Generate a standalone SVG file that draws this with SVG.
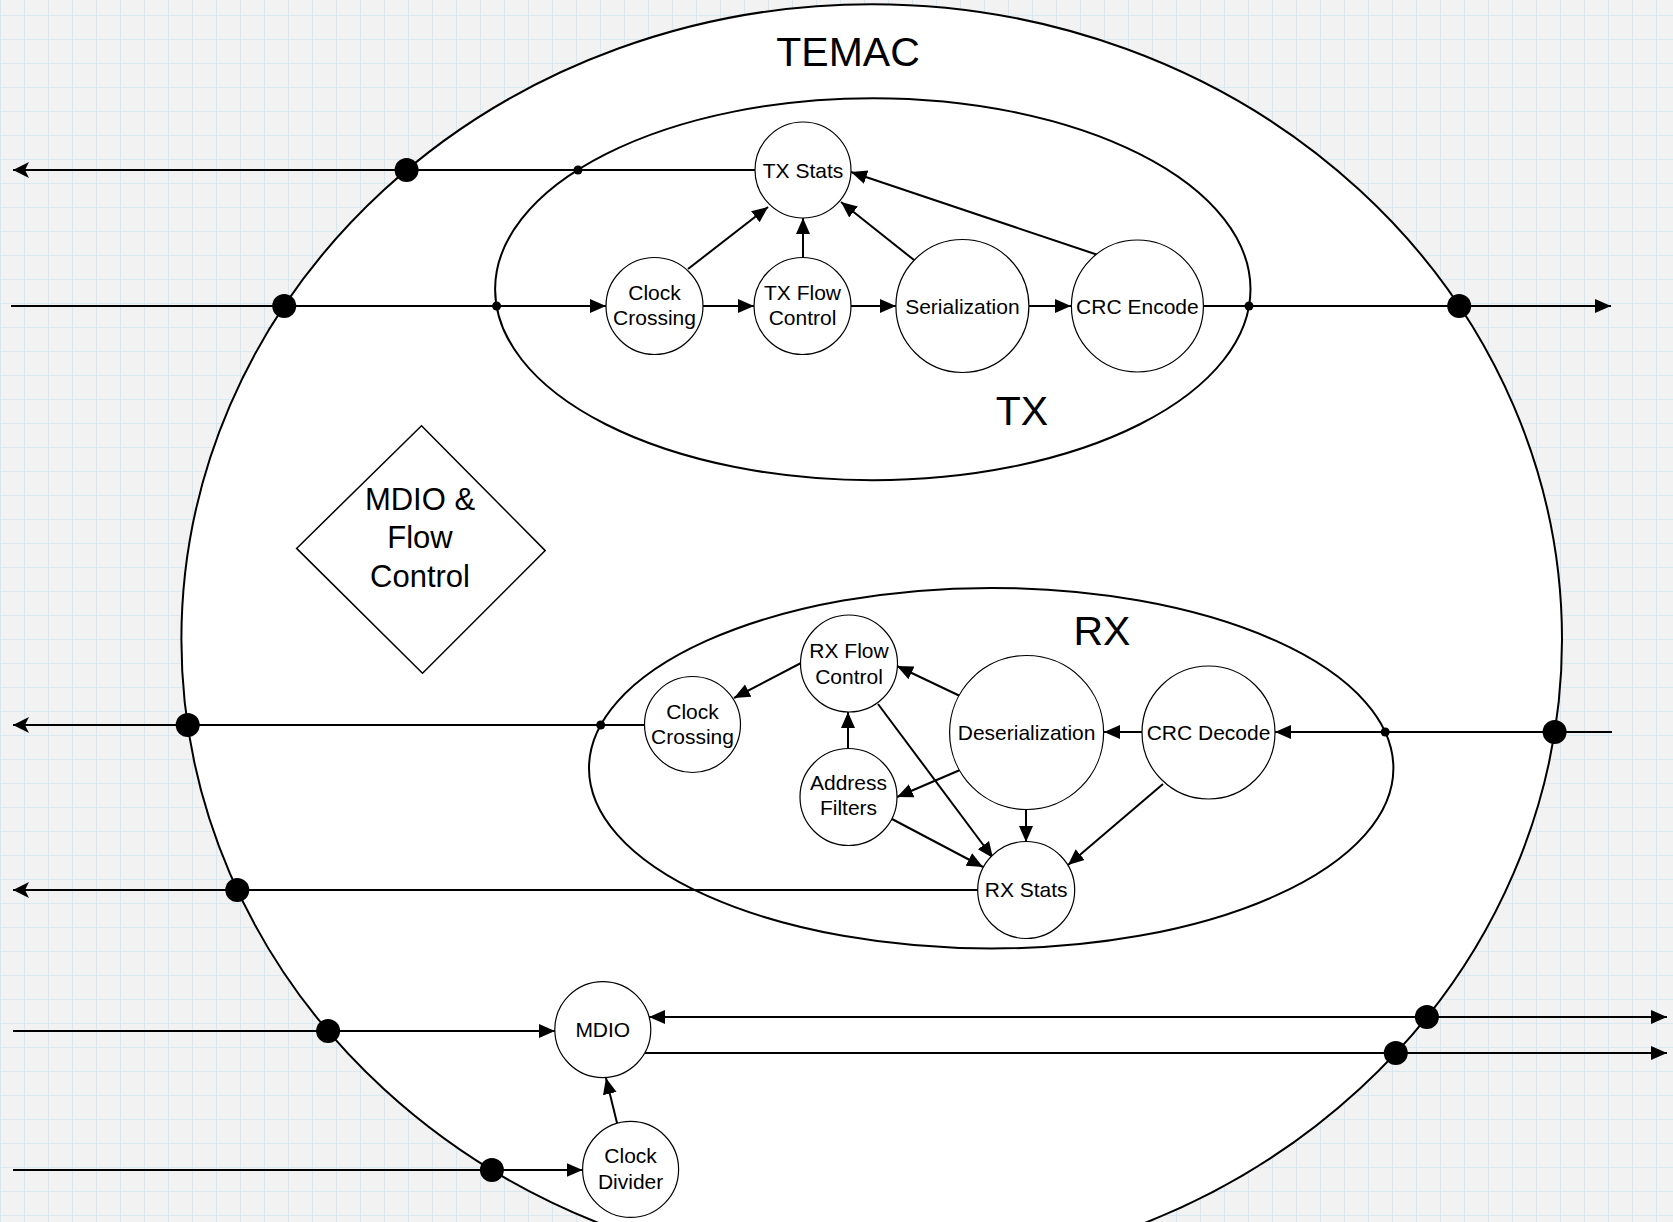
<svg xmlns="http://www.w3.org/2000/svg" width="1673" height="1222" viewBox="0 0 1673 1222">
  <defs>
    <pattern id="grid" x="0" y="15" width="24" height="24" patternUnits="userSpaceOnUse">
      <rect width="24" height="24" fill="#f2f2f2"/>
      <path d="M0,0 H24 M0,0 V24" stroke="#d2e5ee" stroke-width="1.6" fill="none"/>
    </pattern>
    <marker id="arrow" viewBox="0 0 16 16" refX="16" refY="8" markerWidth="16" markerHeight="16" markerUnits="userSpaceOnUse" orient="auto-start-reverse">
      <path d="M0,1 L16,8 L0,15 z" fill="#000"/>
    </marker>
    <marker id="arrowOut" viewBox="0 0 16 16" refX="16" refY="8" markerWidth="16" markerHeight="16" markerUnits="userSpaceOnUse" orient="auto">
      <path d="M0,0 L16,8 L0,16 L4,8 z" fill="#000"/>
    </marker>
    <style>
      .region { fill: #fff; stroke: #000; stroke-width: 2; }
      .node { fill: #fff; stroke: #000; stroke-width: 1.2; }
      .wire { fill: none; stroke: #000; stroke-width: 2; }
      .wire.a { marker-end: url(#arrow); }
      .wire.out { marker-end: url(#arrowOut); }
      .port { fill: #000; }
      .lbl { font-family: "Liberation Sans", Arial, sans-serif; font-size: 21px; text-anchor: middle; fill: #000; }
      .big { font-family: "Liberation Sans", Arial, sans-serif; font-size: 41px; text-anchor: middle; fill: #000; }
      .mid { font-family: "Liberation Sans", Arial, sans-serif; font-size: 31px; text-anchor: middle; fill: #000; }
    </style>
  </defs>

  <!-- graph paper backdrop -->
  <rect width="1673" height="1222" fill="url(#grid)"/>

  <!-- MAC boundary and sub-blocks -->
  <g id="temac">
    <ellipse class="region" cx="871.7" cy="639.5" rx="690.3" ry="635.3"/>
    <text class="big" x="848" y="66">TEMAC</text>
  </g>
  <g id="tx">
    <ellipse class="region" cx="872.8" cy="289.2" rx="377.7" ry="191"/>
    <text class="big" x="1022" y="425">TX</text>
  </g>
  <g id="rx">
    <ellipse class="region" cx="991.2" cy="768.2" rx="402.2" ry="180.3"/>
    <text class="big" x="1102" y="645">RX</text>
  </g>
  <g id="mdio-flow">
    <polygon points="421.5,425.7 545.2,550.6 422.5,673.3 296.6,548.4" fill="#fff" stroke="#000" stroke-width="1.5"/>
    <text class="mid" x="420" y="510">MDIO &amp;</text>
    <text class="mid" x="420" y="548">Flow</text>
    <text class="mid" x="420" y="587">Control</text>
  </g>

  <!-- connectors -->
  <g id="connectors">
    <!-- TX path -->
    <path class="wire out" d="M755,170 H13"/>
    <path class="wire a" d="M11,306 H606"/>
    <path class="wire a" d="M703,306 H754"/>
    <path class="wire a" d="M851,306 H896"/>
    <path class="wire a" d="M1029,306 H1071"/>
    <path class="wire a" d="M1203.5,306 H1611"/>
    <path class="wire a" d="M688,269 L768,207"/>
    <path class="wire a" d="M803,258 L803,218"/>
    <path class="wire a" d="M914,260 L841,202"/>
    <path class="wire a" d="M1098,255 L851,172"/>
    <!-- RX path -->
    <path class="wire a" d="M1612,732 H1275"/>
    <path class="wire a" d="M1142,732 H1104"/>
    <path class="wire a" d="M960,696 L897,666"/>
    <path class="wire a" d="M960,770 L897,797"/>
    <path class="wire a" d="M1026,809 L1026,842"/>
    <path class="wire a" d="M1163,784 L1068,865"/>
    <path class="wire a" d="M878,704 L993,858"/>
    <path class="wire a" d="M892,819 L983,867"/>
    <path class="wire a" d="M848,748 L848,712"/>
    <path class="wire a" d="M801,663 L734,698"/>
    <path class="wire out" d="M644.5,725 H13"/>
    <path class="wire out" d="M978,890 H13"/>
    <!-- management path -->
    <path class="wire a" d="M13,1031 H555"/>
    <path class="wire a" d="M13,1170 H582.6"/>
    <path class="wire a" d="M617,1123 L606,1078"/>
    <path class="wire a" d="M649,1017 H1667" marker-start="url(#arrow)"/>
    <path class="wire a" d="M645,1053 H1667"/>
  </g>

  <!-- boundary crossing points -->
  <g id="ports">
    <circle class="port" cx="406.6" cy="170" r="12"/>
    <circle class="port" cx="284.2" cy="306" r="12"/>
    <circle class="port" cx="1459.2" cy="306" r="12"/>
    <circle class="port" cx="187.7" cy="725" r="12"/>
    <circle class="port" cx="1554.6" cy="732" r="12"/>
    <circle class="port" cx="237.3" cy="890" r="12"/>
    <circle class="port" cx="1426.9" cy="1017" r="12"/>
    <circle class="port" cx="328.1" cy="1031" r="12"/>
    <circle class="port" cx="1395.8" cy="1053" r="12"/>
    <circle class="port" cx="491.9" cy="1170" r="12"/>
    <circle class="port" cx="578" cy="170" r="4.5"/>
    <circle class="port" cx="496.6" cy="306" r="4.5"/>
    <circle class="port" cx="1249" cy="306" r="4.5"/>
    <circle class="port" cx="600.7" cy="725" r="4.5"/>
    <circle class="port" cx="1385.2" cy="732" r="4.5"/>
  </g>

  <!-- TX blocks -->
  <g id="tx-stats">
    <circle class="node" cx="803" cy="170" r="48"/>
    <text class="lbl" x="803" y="177.5">TX Stats</text>
  </g>
  <g id="tx-clock-crossing">
    <circle class="node" cx="654.5" cy="306" r="48.5"/>
    <text class="lbl" x="654.5" y="300">Clock</text>
    <text class="lbl" x="654.5" y="325">Crossing</text>
  </g>
  <g id="tx-flow-control">
    <circle class="node" cx="802.5" cy="306" r="48.5"/>
    <text class="lbl" x="802.5" y="300">TX Flow</text>
    <text class="lbl" x="802.5" y="325">Control</text>
  </g>
  <g id="serialization">
    <circle class="node" cx="962.4" cy="306" r="66.5"/>
    <text class="lbl" x="962.4" y="313.5">Serialization</text>
  </g>
  <g id="crc-encode">
    <circle class="node" cx="1137.4" cy="306" r="66"/>
    <text class="lbl" x="1137.4" y="313.5">CRC Encode</text>
  </g>

  <!-- RX blocks -->
  <g id="rx-flow-control">
    <circle class="node" cx="849" cy="663.5" r="48.5"/>
    <text class="lbl" x="849" y="658">RX Flow</text>
    <text class="lbl" x="849" y="684">Control</text>
  </g>
  <g id="rx-clock-crossing">
    <circle class="node" cx="692.5" cy="724.5" r="48"/>
    <text class="lbl" x="692.5" y="718.5">Clock</text>
    <text class="lbl" x="692.5" y="744">Crossing</text>
  </g>
  <g id="address-filters">
    <circle class="node" cx="848.5" cy="797" r="48.5"/>
    <text class="lbl" x="848.5" y="789.5">Address</text>
    <text class="lbl" x="848.5" y="815">Filters</text>
  </g>
  <g id="deserialization">
    <circle class="node" cx="1026.6" cy="732.5" r="77"/>
    <text class="lbl" x="1026.6" y="739.5">Deserialization</text>
  </g>
  <g id="crc-decode">
    <circle class="node" cx="1208.5" cy="732.5" r="66.5"/>
    <text class="lbl" x="1208.5" y="739.5">CRC Decode</text>
  </g>
  <g id="rx-stats">
    <circle class="node" cx="1026.2" cy="890" r="48.5"/>
    <text class="lbl" x="1026.2" y="897">RX Stats</text>
  </g>

  <!-- management blocks -->
  <g id="mdio">
    <circle class="node" cx="602.8" cy="1029.6" r="48"/>
    <text class="lbl" x="602.8" y="1037">MDIO</text>
  </g>
  <g id="clock-divider">
    <circle class="node" cx="630.6" cy="1169.4" r="48"/>
    <text class="lbl" x="630.6" y="1163">Clock</text>
    <text class="lbl" x="630.6" y="1188.5">Divider</text>
  </g>
</svg>
